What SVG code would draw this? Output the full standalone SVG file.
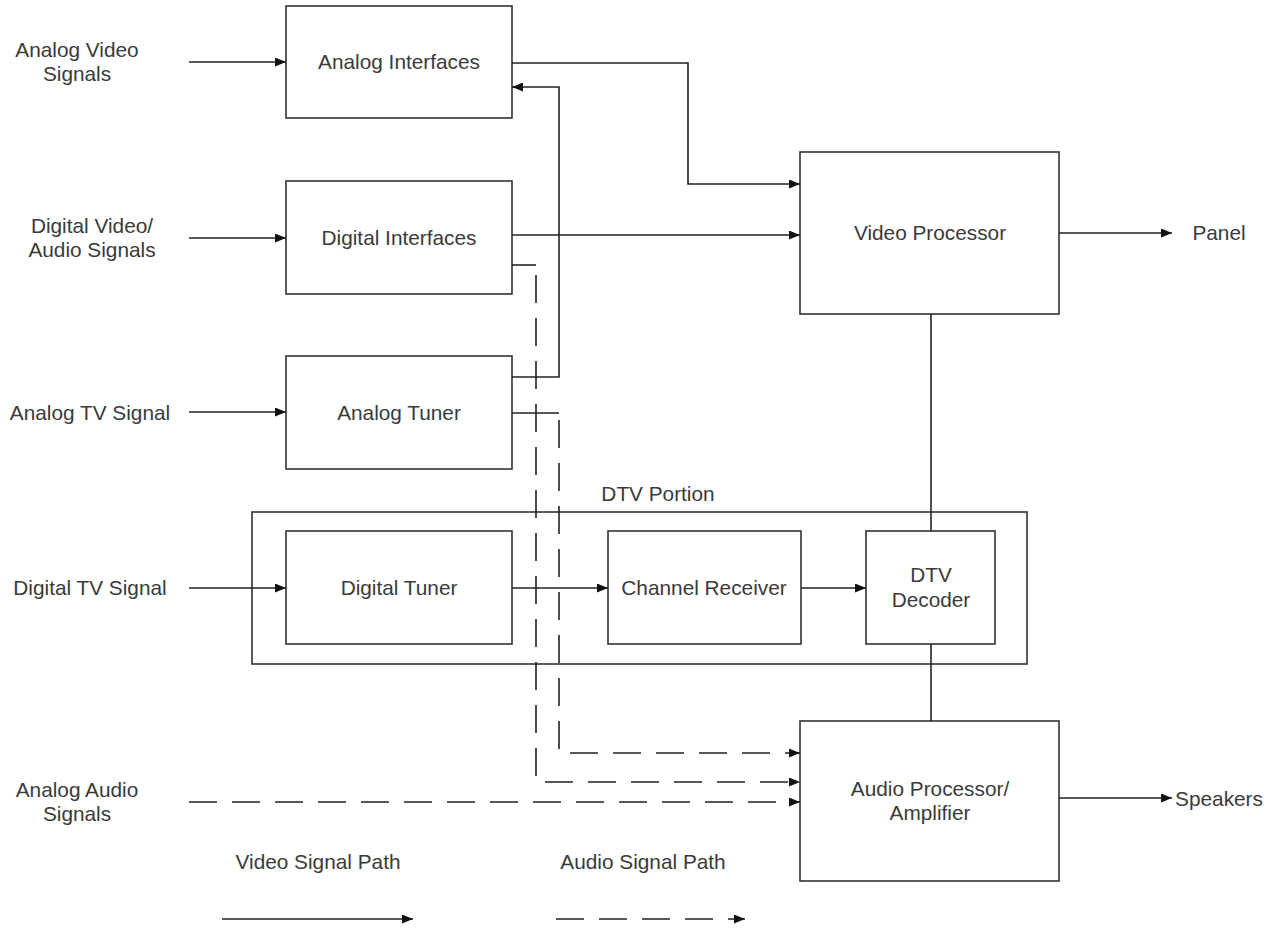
<svg xmlns="http://www.w3.org/2000/svg" width="1270" height="928" viewBox="0 0 1270 928">
<defs>
<marker id="arr" markerUnits="userSpaceOnUse" markerWidth="11" markerHeight="9" refX="11" refY="4.5" orient="auto">
<path d="M0,0 L11,4.5 L0,9 z" fill="#111"/>
</marker>
<style>
.box{fill:#fff;stroke:#333;stroke-width:1.6}
.t{font-family:"Liberation Sans",Arial,sans-serif;font-size:20.8px;fill:#3a3a3a;text-anchor:middle}
.c{fill:none;stroke:#222;stroke-width:1.6}
.d{fill:none;stroke:#222;stroke-width:1.6;stroke-dasharray:28 15}
</style>
</defs>
<rect width="1270" height="928" fill="#fff"/>

<g id="dtv-portion">
<rect class="box" x="252" y="512" width="775" height="152"/>
<text class="t" x="658" y="501">DTV Portion</text>
</g>

<g id="analog-interfaces">
<rect class="box" x="286" y="6" width="226" height="112"/>
<text class="t" x="399" y="69">Analog Interfaces</text>
</g>
<g id="digital-interfaces">
<rect class="box" x="286" y="181" width="226" height="113"/>
<text class="t" x="399" y="245">Digital Interfaces</text>
</g>
<g id="analog-tuner">
<rect class="box" x="286" y="356" width="226" height="113"/>
<text class="t" x="399" y="420">Analog Tuner</text>
</g>
<g id="digital-tuner">
<rect class="box" x="286" y="531" width="226" height="113"/>
<text class="t" x="399" y="595">Digital Tuner</text>
</g>
<g id="channel-receiver">
<rect class="box" x="608" y="531" width="193" height="113"/>
<text class="t" x="704" y="595">Channel Receiver</text>
</g>
<g id="dtv-decoder">
<rect class="box" x="866" y="531" width="129" height="113"/>
<text class="t" x="931" y="582">DTV</text>
<text class="t" x="931" y="607">Decoder</text>
</g>
<g id="video-processor">
<rect class="box" x="800" y="152" width="259" height="162"/>
<text class="t" x="930" y="240">Video Processor</text>
</g>
<g id="audio-processor">
<rect class="box" x="800" y="721" width="259" height="160"/>
<text class="t" x="930" y="796">Audio Processor/</text>
<text class="t" x="930" y="820">Amplifier</text>
</g>

<g id="labels">
<text class="t" x="77" y="57">Analog Video</text>
<text class="t" x="77" y="81">Signals</text>
<text class="t" x="92" y="233">Digital Video/</text>
<text class="t" x="92" y="257">Audio Signals</text>
<text class="t" x="90" y="420">Analog TV Signal</text>
<text class="t" x="90" y="595">Digital TV Signal</text>
<text class="t" x="77" y="797">Analog Audio</text>
<text class="t" x="77" y="821">Signals</text>
<text class="t" x="1219" y="240">Panel</text>
<text class="t" x="1219" y="806">Speakers</text>
<text class="t" x="318" y="869">Video Signal Path</text>
<text class="t" x="643" y="869">Audio Signal Path</text>
</g>

<g id="connectors">
<path class="c" d="M189,62 H286" marker-end="url(#arr)"/>
<path class="c" d="M189,238 H286" marker-end="url(#arr)"/>
<path class="c" d="M189,412 H286" marker-end="url(#arr)"/>
<path class="c" d="M189,588 H286" marker-end="url(#arr)"/>
<path class="d" d="M189,802 H800" marker-end="url(#arr)"/>
<path class="c" d="M512,63 H688 V184 H800" marker-end="url(#arr)"/>
<path class="c" d="M512,235 H800" marker-end="url(#arr)"/>
<path class="c" d="M512,377 H559 V87 H512" marker-end="url(#arr)"/>
<path class="c" d="M512,265 H536"/>
<path class="d" d="M536,275 V782 H800" marker-end="url(#arr)"/>
<path class="c" d="M512,413 H559"/>
<path class="d" d="M559,420 V753 H800" marker-end="url(#arr)"/>
<path class="c" d="M1059,233 H1172" marker-end="url(#arr)"/>
<path class="c" d="M1059,798 H1172" marker-end="url(#arr)"/>
<path class="c" d="M931,314 V531"/>
<path class="c" d="M931,644 V721"/>
<path class="c" d="M512,588 H608" marker-end="url(#arr)"/>
<path class="c" d="M801,588 H866" marker-end="url(#arr)"/>
<path class="c" d="M222,919 H413" marker-end="url(#arr)"/>
<path class="d" d="M556,919 H745" marker-end="url(#arr)"/>
</g>
</svg>
